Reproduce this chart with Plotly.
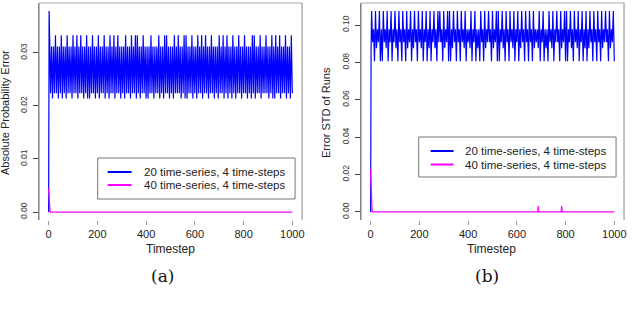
import plotly.graph_objects as go

# ---------------- data ----------------
timesteps = [0, 2] + list(range(4, 1001, 4))

blue_a = [0.0, 0.0379,
    0.0333, 0.0224, 0.0312, 0.0214, 0.0312, 0.0224, 0.0333, 0.0224, 0.0312, 0.0214,
    0.0312, 0.0224, 0.0333, 0.0214, 0.0312, 0.0224, 0.0312, 0.0214, 0.0333, 0.0224,
    0.0312, 0.0224, 0.0312, 0.0214, 0.0333, 0.0224, 0.0312, 0.0224, 0.0333, 0.0214,
    0.0312, 0.0224, 0.0333, 0.0224, 0.0312, 0.0214, 0.0312, 0.0224, 0.0333, 0.0214,
    0.0312, 0.0214, 0.0312, 0.0224, 0.0333, 0.0224, 0.0312, 0.0214, 0.0312, 0.0224,
    0.0333, 0.0214, 0.0312, 0.0224, 0.0312, 0.0224, 0.0333, 0.0214, 0.0312, 0.0224,
    0.0312, 0.0214, 0.0333, 0.0224, 0.0312, 0.0224, 0.0333, 0.0214, 0.0312, 0.0224,
    0.0333, 0.0224, 0.0312, 0.0214, 0.0312, 0.0224, 0.0312, 0.0214, 0.0333, 0.0224,
    0.0312, 0.0224, 0.0312, 0.0214, 0.0333, 0.0224, 0.0312, 0.0224, 0.0333, 0.0214,
    0.0333, 0.0224, 0.0312, 0.0214, 0.0312, 0.0224, 0.0333, 0.0224, 0.0312, 0.0214,
    0.0312, 0.0214, 0.0312, 0.0224, 0.0333, 0.0224, 0.0312, 0.0214, 0.0312, 0.0224,
    0.0312, 0.0224, 0.0333, 0.0214, 0.0312, 0.0224, 0.0312, 0.0214, 0.0333, 0.0224,
    0.0333, 0.0224, 0.0312, 0.0214, 0.0312, 0.0224, 0.0312, 0.0214, 0.0333, 0.0224,
    0.0312, 0.0224, 0.0333, 0.0224, 0.0312, 0.0214, 0.0312, 0.0224, 0.0333, 0.0214,
    0.0333, 0.0214, 0.0312, 0.0224, 0.0312, 0.0224, 0.0333, 0.0214, 0.0312, 0.0224,
    0.0312, 0.0214, 0.0333, 0.0224, 0.0312, 0.0224, 0.0333, 0.0214, 0.0312, 0.0224,
    0.0333, 0.0224, 0.0312, 0.0214, 0.0312, 0.0224, 0.0333, 0.0224, 0.0312, 0.0214,
    0.0312, 0.0224, 0.0312, 0.0214, 0.0333, 0.0224, 0.0312, 0.0224, 0.0333, 0.0214,
    0.0312, 0.0224, 0.0333, 0.0214, 0.0312, 0.0224, 0.0312, 0.0214, 0.0333, 0.0224,
    0.0312, 0.0214, 0.0312, 0.0224, 0.0333, 0.0224, 0.0312, 0.0214, 0.0312, 0.0224,
    0.0333, 0.0224, 0.0312, 0.0214, 0.0312, 0.0224, 0.0312, 0.0214, 0.0333, 0.0224,
    0.0333, 0.0214, 0.0312, 0.0224, 0.0312, 0.0224, 0.0333, 0.0214, 0.0312, 0.0224,
    0.0312, 0.0224, 0.0333, 0.0224, 0.0312, 0.0214, 0.0312, 0.0224, 0.0333, 0.0214,
    0.0312, 0.0214, 0.0333, 0.0224, 0.0312, 0.0224, 0.0333, 0.0214, 0.0312, 0.0224,
    0.0312, 0.0224, 0.0333, 0.0214, 0.0312, 0.0224, 0.0312, 0.0214, 0.0333, 0.0224]

blue_b = [0.0, 0.0876,
    0.1075, 0.0908, 0.0978, 0.0806, 0.1075, 0.0876, 0.0978, 0.0908, 0.1075, 0.0806,
    0.0978, 0.0806, 0.1075, 0.0908, 0.0978, 0.0876, 0.1075, 0.0806, 0.0978, 0.0908,
    0.1075, 0.0806, 0.0978, 0.0908, 0.1075, 0.0876, 0.0978, 0.0806, 0.1075, 0.0908,
    0.0978, 0.0806, 0.1075, 0.0908, 0.0978, 0.0806, 0.1075, 0.0876, 0.0978, 0.0908,
    0.1075, 0.0806, 0.0978, 0.0876, 0.1075, 0.0908, 0.0978, 0.0806, 0.1075, 0.0908,
    0.0978, 0.0876, 0.1075, 0.0806, 0.0978, 0.0908, 0.1075, 0.0806, 0.0978, 0.0876,
    0.1075, 0.0806, 0.0978, 0.0908, 0.1075, 0.0876, 0.0978, 0.0806, 0.1075, 0.0908,
    0.1075, 0.0908, 0.0978, 0.0806, 0.1075, 0.0876, 0.0978, 0.0908, 0.1075, 0.0806,
    0.1075, 0.0806, 0.0978, 0.0876, 0.1075, 0.0908, 0.0978, 0.0806, 0.1075, 0.0908,
    0.0978, 0.0806, 0.1075, 0.0908, 0.0978, 0.0876, 0.1075, 0.0806, 0.0978, 0.0908,
    0.0978, 0.0876, 0.1075, 0.0806, 0.0978, 0.0908, 0.1075, 0.0806, 0.0978, 0.0876,
    0.0978, 0.0806, 0.1075, 0.0908, 0.0978, 0.0806, 0.1075, 0.0876, 0.0978, 0.0908,
    0.1075, 0.0908, 0.0978, 0.0806, 0.1075, 0.0876, 0.0978, 0.0908, 0.1075, 0.0806,
    0.1075, 0.0806, 0.0978, 0.0908, 0.1075, 0.0876, 0.0978, 0.0806, 0.1075, 0.0908,
    0.0978, 0.0806, 0.1075, 0.0908, 0.0978, 0.0876, 0.1075, 0.0806, 0.0978, 0.0908,
    0.1075, 0.0806, 0.0978, 0.0876, 0.1075, 0.0908, 0.0978, 0.0806, 0.1075, 0.0908,
    0.0978, 0.0806, 0.1075, 0.0908, 0.0978, 0.0806, 0.1075, 0.0876, 0.0978, 0.0908,
    0.0978, 0.0876, 0.1075, 0.0806, 0.0978, 0.0908, 0.1075, 0.0806, 0.0978, 0.0876,
    0.0978, 0.0806, 0.1075, 0.0908, 0.0978, 0.0876, 0.1075, 0.0806, 0.0978, 0.0908,
    0.1075, 0.0908, 0.0978, 0.0806, 0.1075, 0.0876, 0.0978, 0.0908, 0.1075, 0.0806,
    0.1075, 0.0806, 0.0978, 0.0908, 0.1075, 0.0876, 0.0978, 0.0806, 0.1075, 0.0908,
    0.0978, 0.0876, 0.1075, 0.0806, 0.0978, 0.0908, 0.1075, 0.0806, 0.0978, 0.0876,
    0.1075, 0.0806, 0.0978, 0.0876, 0.1075, 0.0908, 0.0978, 0.0806, 0.1075, 0.0908,
    0.0978, 0.0806, 0.1075, 0.0908, 0.0978, 0.0806, 0.1075, 0.0876, 0.0978, 0.0908,
    0.1075, 0.0908, 0.0978, 0.0806, 0.1075, 0.0876, 0.0978, 0.0908, 0.1075, 0.0806]

magenta_t_a = [0, 6, 1000]
magenta_a = [0.0045, 0.0, 0.0]

magenta_t_b = [0, 6, 686, 688, 690, 782, 784, 786, 1000]
magenta_b = [0.0226, 0.0, 0.0, 0.0032, 0.0, 0.0, 0.0032, 0.0, 0.0]

series_names = ["20 time-series, 4 time-steps", "40 time-series, 4 time-steps"]
x_ticks = [0, 200, 400, 600, 800, 1000]
y_ticks_a = [0.0, 0.01, 0.02, 0.03]
y_ticks_b = [0.0, 0.02, 0.04, 0.06, 0.08, 0.10]
y_titles = ["Absolute Probability Error", "Error STD of Runs"]
x_title = "Timestep"
captions = ["(a)", "(b)"]

# ---------------- figure ----------------
W, H = 640, 318
BLUE = "#0000ff"
MAG = "#ff00ff"
FONT = "Liberation Sans, Arial, sans-serif"

def px(x):
    return x / W

def py(y):
    return 1 - y / H

fig = go.Figure()
fig.add_trace(go.Scatter(x=timesteps, y=blue_a, mode="lines",
                         line=dict(color=BLUE, width=1.2, simplify=False),
                         xaxis="x", yaxis="y", showlegend=False))
fig.add_trace(go.Scatter(x=magenta_t_a, y=magenta_a, mode="lines", line=dict(color=MAG, width=1.3),
                         xaxis="x", yaxis="y", showlegend=False))
fig.add_trace(go.Scatter(x=timesteps, y=blue_b, mode="lines",
                         line=dict(color=BLUE, width=1.2, simplify=False),
                         xaxis="x2", yaxis="y2", showlegend=False))
fig.add_trace(go.Scatter(x=magenta_t_b, y=magenta_b, mode="lines", line=dict(color=MAG, width=1.3),
                         xaxis="x2", yaxis="y2", showlegend=False))

ydom = [py(220), py(3)]
xaxis_common = dict(range=[-40, 1040], tickvals=x_ticks, ticks="outside", ticklen=4,
                    tickcolor="#999", showline=False, showgrid=False, zeroline=False,
                    tickfont=dict(size=11, color="#222", family=FONT))
yaxis_common = dict(ticks="outside", ticklen=5, tickcolor="#444", tickangle=-90,
                    showline=False, showgrid=False, zeroline=False, tickformat=".2f",
                    ticklabelstandoff=2,
                    tickfont=dict(size=8.5, color="#333", family=FONT), domain=ydom)

fig.update_layout(
    width=W, height=H, margin=dict(l=0, r=0, t=0, b=0),
    paper_bgcolor="white", plot_bgcolor="white",
    font=dict(family=FONT, color="#222"),
    xaxis=dict(domain=[px(39), px(303)], anchor="y", **xaxis_common),
    yaxis=dict(range=[-0.0015, 0.0394], tickvals=y_ticks_a, anchor="x", **yaxis_common),
    xaxis2=dict(domain=[px(362), px(626)], anchor="y2", **xaxis_common),
    yaxis2=dict(range=[-0.0043, 0.1118], tickvals=y_ticks_b, anchor="x2", **yaxis_common),
)

shapes = []
annots = []
for xr, yr in [("x domain", "y domain"), ("x2 domain", "y2 domain")]:
    shapes.append(dict(type="line", xref=xr, yref=yr, x0=0, x1=0, y0=0, y1=1,
                       line=dict(color="#444", width=1)))
    shapes.append(dict(type="line", xref=xr, yref=yr, x0=0, x1=1, y0=1, y1=1,
                       line=dict(color="#aaa", width=1)))
    shapes.append(dict(type="line", xref=xr, yref=yr, x0=1, x1=1, y0=0, y1=1,
                       line=dict(color="#888", width=1)))

# legends (drawn manually)
legend_specs = [
    dict(box=(98, 296, 158, 199), line_x=(108, 132), text_x=142, rows=(172, 185)),
    dict(box=(420, 618, 137, 177), line_x=(432, 455), text_x=464, rows=(151, 164.5)),
]
for spec in legend_specs:
    x0, x1, y0, y1 = spec["box"]
    shapes.append(dict(type="rect", xref="paper", yref="paper", x0=px(x0), x1=px(x1),
                       y0=py(y1), y1=py(y0), line=dict(color="#777", width=1),
                       fillcolor="white", layer="above"))
    for name, color, ry in zip(series_names, [BLUE, MAG], spec["rows"]):
        shapes.append(dict(type="line", xref="paper", yref="paper",
                           x0=px(spec["line_x"][0]), x1=px(spec["line_x"][1]),
                           y0=py(ry), y1=py(ry), line=dict(color=color, width=2), layer="above"))
        annots.append(dict(text=name, xref="paper", yref="paper", x=px(spec["text_x"]), y=py(ry),
                           xanchor="left", yanchor="middle", showarrow=False,
                           font=dict(size=11.5, color="#222", family=FONT)))

# axis titles and captions
for cx, tx, ty_x, ytitle, cap in [(171, 163, 5, y_titles[0], captions[0]),
                                   (493, 489, 327, y_titles[1], captions[1])]:
    annots.append(dict(text=x_title, xref="paper", yref="paper", x=px(cx), y=py(249),
                       xanchor="center", yanchor="middle", showarrow=False,
                       font=dict(size=12, color="#222", family=FONT)))
    annots.append(dict(text=cap, xref="paper", yref="paper", x=px(tx), y=py(276),
                       xanchor="center", yanchor="middle", showarrow=False,
                       font=dict(size=17, color="#111", family="DejaVu Serif, serif")))
    annots.append(dict(text=ytitle, xref="paper", yref="paper", x=px(ty_x), y=py(112),
                       xanchor="center", yanchor="middle", showarrow=False, textangle=-90,
                       font=dict(size=11, color="#222", family=FONT)))

fig.update_layout(shapes=shapes, annotations=annots)
fig.write_html("out.html", config={"displayModeBar": False},
               post_script="document.body.style.margin='0px';")
